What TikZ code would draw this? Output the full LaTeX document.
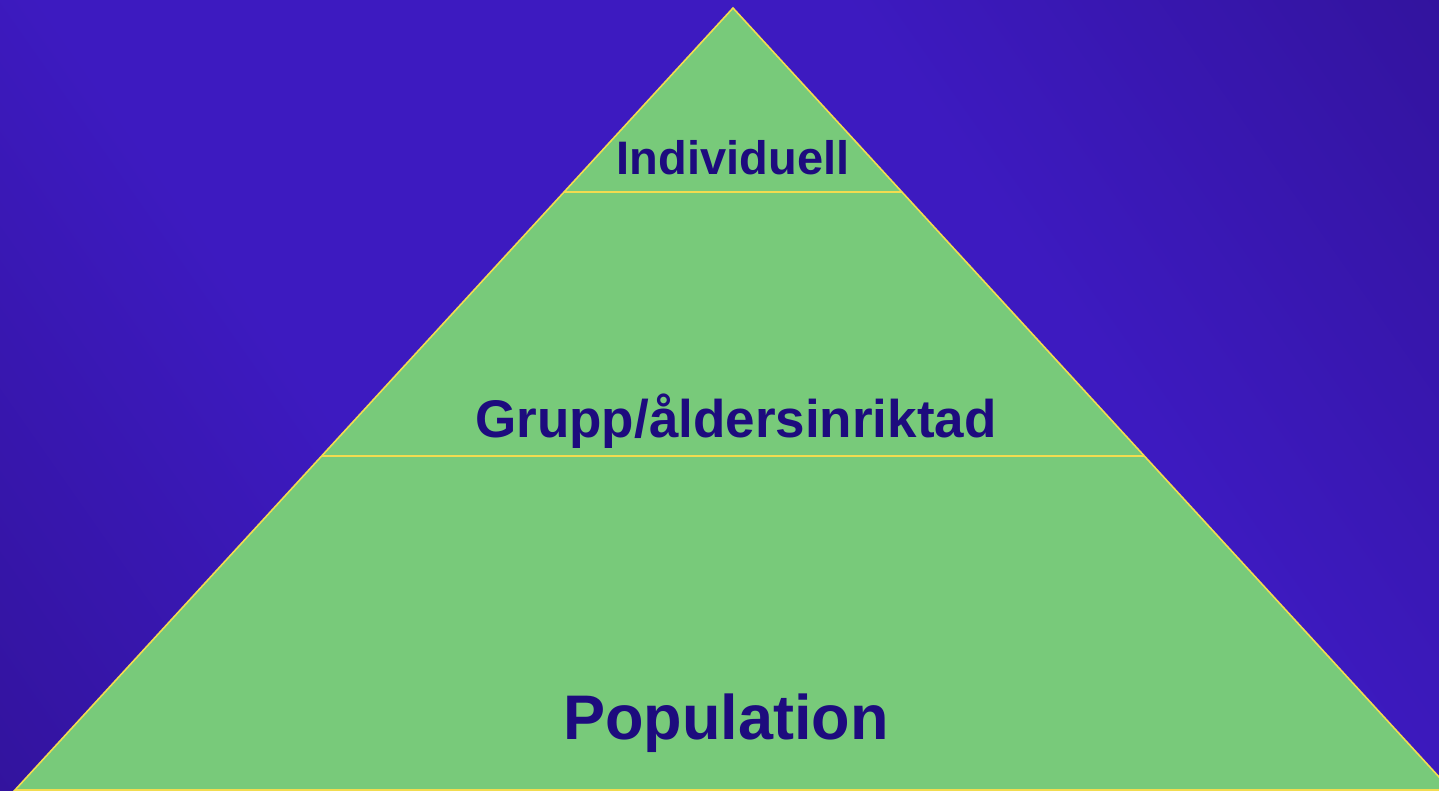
\documentclass[tikz,border=0pt]{standalone}
\usepackage{fontspec}
\setmainfont{Liberation Sans}
\usetikzlibrary{calc}
\definecolor{bgdark}{HTML}{32139C}
\definecolor{bglight}{HTML}{3D1AC0}
\definecolor{pyrgreen}{HTML}{78CA7A}
\definecolor{pyrline}{HTML}{F2DC50}
\definecolor{pyrtext}{HTML}{1D0B7E}
\pgfdeclarehorizontalshading{bgshade}{100bp}{color(0bp)=(bgdark); color(14bp)=(bgdark); color(36bp)=(bglight); color(64bp)=(bglight); color(86bp)=(bgdark); color(100bp)=(bgdark)}

\begin{document}
\begin{tikzpicture}[x=1pt,y=-1pt]
    \tikzstyle{layer}=[draw=pyrline,line width=1.6pt]
    \tikzstyle{level}=[text=pyrtext,anchor=base,inner sep=0pt]
    \useasboundingbox (0,0) rectangle (1439,790);
    \clip (0,0) rectangle (1439,790);
    \fill[bglight] (0,0) rectangle (1439,790);
    \shade[shading=bgshade,shading angle=35] (0,0) rectangle (1439,790);

    \coordinate (apex) at (733,8);
    \coordinate (baseL) at (15,790);
    \coordinate (baseR) at (1451,790);
    \filldraw[layer,fill=pyrgreen] (apex) -- (baseR) -- (baseL) -- cycle;

    \foreach \name/\t in {top/0.2353, mid/0.5729} {
        \coordinate (\name L) at ($(apex)!\t!(baseL)$);
        \coordinate (\name R) at ($(apex)!\t!(baseR)$);
        \draw[layer] (\name L) -- (\name R);
    }

    \node[level,font=\bfseries\fontsize{47}{54}\selectfont] (indiv) at (733,174) {Individuell};
    \node[level,font=\bfseries\fontsize{53}{60}\selectfont] (grupp) at (736,437) {Grupp/åldersinriktad};
    \node[level,font=\bfseries\fontsize{63}{72}\selectfont] (pop) at (726,739) {Population};
\end{tikzpicture}
\end{document}
